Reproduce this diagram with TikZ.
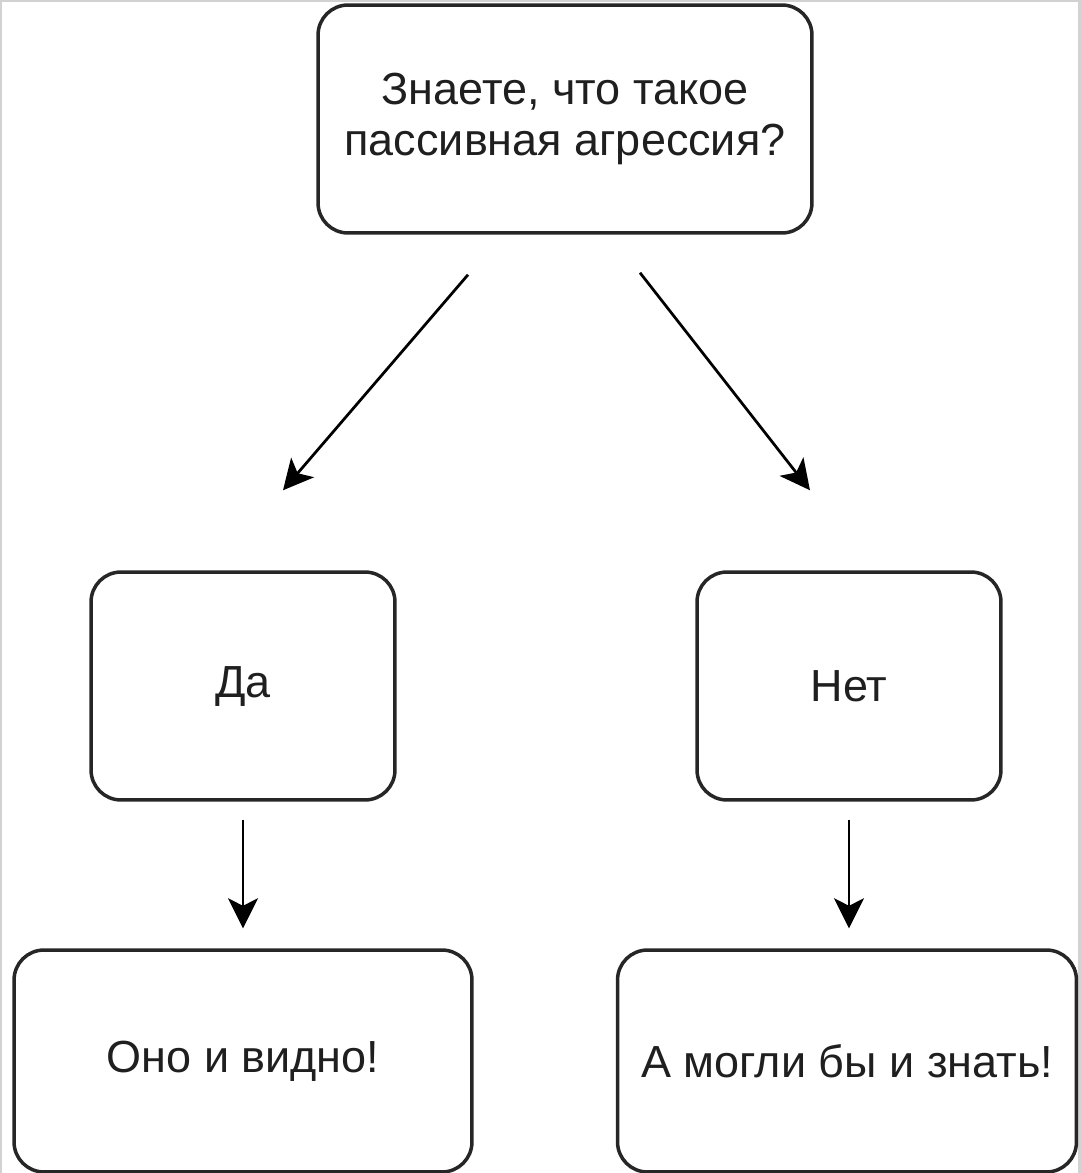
\documentclass[tikz,border=0pt]{standalone}
\usepackage{fontspec}
\setmainfont{Liberation Sans}
\usetikzlibrary{arrows.meta}
\tikzset{
  box/.style={draw, draw=black!85, line width=0.07cm, rounded corners=0.6cm, align=center,
    text=black!88, font=\fontsize{25.6pt}{29pt}\selectfont},
  arr/.style={-{Stealth[length=0.6cm,width=0.6cm,inset=0.15cm]}, line width=0.055cm},
}
\begin{document}
\begin{tikzpicture}[x=0.02cm,y=-0.02cm]
      \useasboundingbox (0,0) rectangle (1080,1173);
      \draw[gray!35, line width=0.1cm] (0,1173) -- (0,0) -- (1080,0) -- (1080,1173);
      \draw
        (565,119) node[box, minimum width=9.88cm, minimum height=4.56cm] (q){Знаете, что такое\\пассивная агрессия?}
        (243,686) node[box, minimum width=6.08cm, minimum height=4.56cm] (yes){Да}
        (849,686) node[box, minimum width=6.08cm, minimum height=4.56cm] (no){Нет}
        (243,1061) node[box, minimum width=9.16cm, minimum height=4.44cm] (yesres){Оно и видно!}
        (847,1061) node[box, minimum width=9.18cm, minimum height=4.44cm] (nores){А могли бы и знать!};
      \begin{scope}[arr]
        \draw ([shift={(-97,40)}]q.south) to ([shift={(40,-80)}]yes.north);
        \draw ([shift={(75,38)}]q.south) to ([shift={(-39,-80)}]no.north);
        \draw[shorten <=0.36cm, shorten >=0.4cm] (yes.south) to (yes.south |- yesres.north);
        \draw[shorten <=0.36cm, shorten >=0.4cm] (no.south) to (no.south |- nores.north);
      \end{scope}
    \end{tikzpicture}
\end{document}
